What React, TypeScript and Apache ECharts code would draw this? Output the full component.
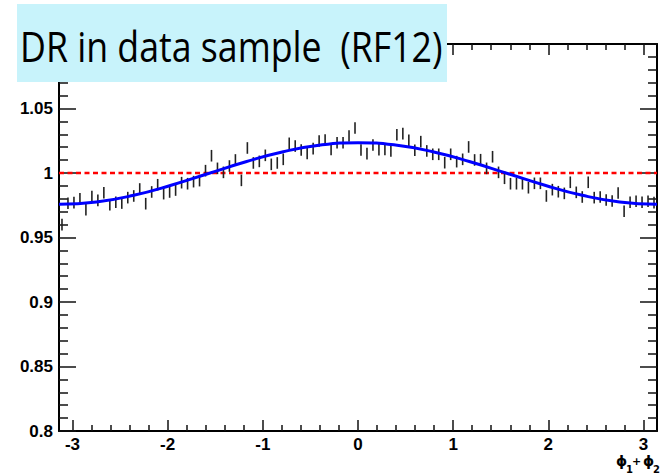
import React, { useEffect, useRef } from "react";
import * as echarts from "echarts";

// Measured ratio per bin (100 bins over [-pi, pi])
const binValues = [
  0.960, 0.9765, 0.977, 0.980, 0.9716, 0.9817, 0.9788, 0.9847, 0.9754, 0.9773,
  0.9767, 0.9809, 0.9822, 0.9876, 0.9762, 0.9853, 0.9909, 0.9840, 0.9853, 0.9868,
  0.9925, 0.9917, 0.9933, 0.9941, 1.0018, 1.0134, 1.0036, 1.0005, 1.0054, 1.0101,
  0.9943, 1.0194, 1.0078, 1.0090, 1.0137, 1.0067, 1.0078, 1.0106, 1.0230, 1.0209,
  1.0178, 1.0152, 1.0189, 1.0248, 1.0256, 1.0183, 1.0235, 1.0235, 1.0287, 1.0349,
  1.0178, 1.0150, 1.0217, 1.0181, 1.0183, 1.0171, 1.0297, 1.0305, 1.0253, 1.0176,
  1.0243, 1.0171, 1.0145, 1.0145, 1.0080, 1.0145, 1.0088, 1.0106, 1.0202, 1.0101,
  1.0103, 1.0036, 1.0126, 1.0005, 0.9959, 0.9917, 0.9917, 0.9917, 0.9886, 0.9920,
  0.9920, 0.9822, 0.9871, 0.9855, 0.9842, 0.9928, 0.9850, 0.9814, 0.9928, 0.9809,
  0.9814, 0.9791, 0.9783, 0.9845, 0.9703, 0.9773, 0.9781, 0.9773, 0.9781, 0.9770,
];
const binError = 0.0045;

// Fit curve
const fitX = [
  -3.1416, -2.7489, -2.3562, -1.9635, -1.5708, -1.1781, -0.7854, -0.3927, 0,
  0.3927, 0.7854, 1.1781, 1.5708, 1.9635, 2.3562, 2.7489, 3.1416,
];
const fitY = [
  0.9757, 0.9775, 0.9827, 0.9905, 0.9996, 1.0087, 1.0165, 1.0217, 1.0235,
  1.0217, 1.0165, 1.0087, 0.9996, 0.9905, 0.9827, 0.9775, 0.9757,
];

const xMajorTicks = [-3, -2, -1, 0, 1, 2, 3];
const xMinorTicks = [
  -2.8, -2.6, -2.4, -2.2, -1.8, -1.6, -1.4, -1.2, -0.8, -0.6, -0.4, -0.2,
  0.2, 0.4, 0.6, 0.8, 1.2, 1.4, 1.6, 1.8, 2.2, 2.4, 2.6, 2.8,
];
const refLevel = 1;
const titleText = "DR in data sample  (RF12)";

const X_MIN = -Math.PI;
const X_MAX = Math.PI;
const LABEL_FONT = "Liberation Sans";

export default function App() {
  const ref = useRef<HTMLDivElement>(null);

  useEffect(() => {
    document.body.style.margin = "0";
    if (!ref.current) return;
    const chart = echarts.init(ref.current, undefined, { renderer: "svg" });

    const nBins = binValues.length;
    const width = (X_MAX - X_MIN) / nBins;
    const points = binValues.map((v, i) => [X_MIN + (i + 0.5) * width, v]);
    const fitData = fitX.map((x, i) => [x, fitY[i]]);

    const axisLineStyle = { color: "#000", width: 2 };
    const tickLine = { color: "#111", width: 1.5 };

    const xBase = (pos: string) => ({
      type: "value",
      min: X_MIN,
      max: X_MAX,
      position: pos,
      splitLine: { show: false },
    });

    const labelStyle = {
      fontFamily: LABEL_FONT,
      fontWeight: "bold",
      fontSize: 17,
      color: "#000",
    };

    const subText = (text: string, x: number, y: number, size: number) => ({
      type: "text",
      z: 101,
      x,
      y,
      style: { text, fontFamily: "DejaVu Sans", fontWeight: "bold", fontSize: size, fill: "#000" },
    });

    const option: any = {
      animation: false,
      grid: { left: 59, right: 3, top: 44, bottom: 45 },
      xAxis: [
        {
          ...xBase("bottom"),
          axisLine: { show: true, onZero: false, lineStyle: axisLineStyle },
          axisTick: { show: true, inside: true, length: 11, customValues: xMajorTicks, lineStyle: tickLine },
          axisLabel: { show: true, customValues: xMajorTicks, ...labelStyle, margin: 5 },
        },
        {
          ...xBase("bottom"),
          axisLine: { show: false, onZero: false },
          axisTick: { show: true, inside: true, length: 6, customValues: xMinorTicks, lineStyle: tickLine },
          axisLabel: { show: false },
        },
        {
          ...xBase("top"),
          axisLine: { show: true, onZero: false, lineStyle: axisLineStyle },
          axisTick: { show: true, inside: true, length: 11, customValues: xMajorTicks, lineStyle: tickLine },
          axisLabel: { show: false },
        },
        {
          ...xBase("top"),
          axisLine: { show: false, onZero: false },
          axisTick: { show: true, inside: true, length: 6, customValues: xMinorTicks, lineStyle: tickLine },
          axisLabel: { show: false },
        },
      ],
      yAxis: [
        {
          type: "value",
          min: 0.8,
          max: 1.1,
          interval: 0.05,
          position: "left",
          axisLine: { show: true, onZero: false, lineStyle: axisLineStyle },
          axisTick: { show: true, inside: true, length: 17, lineStyle: tickLine },
          minorTick: { show: true, splitNumber: 5, length: 9, lineStyle: tickLine },
          splitLine: { show: false },
          minorSplitLine: { show: false },
          axisLabel: {
            ...labelStyle,
            margin: 6,
            showMaxLabel: false,
            formatter: (v: number) => String(Math.round(v * 100) / 100),
          },
        },
        {
          type: "value",
          min: 0.8,
          max: 1.1,
          interval: 0.05,
          position: "right",
          axisLine: { show: true, onZero: false, lineStyle: axisLineStyle },
          axisTick: { show: true, inside: true, length: 17, lineStyle: tickLine },
          minorTick: { show: true, splitNumber: 5, length: 9, lineStyle: tickLine },
          splitLine: { show: false },
          minorSplitLine: { show: false },
          axisLabel: { show: false },
        },
      ],
      series: [
        {
          type: "line",
          name: "reference",
          data: [
            [X_MIN, refLevel],
            [X_MAX, refLevel],
          ],
          symbol: "none",
          silent: true,
          lineStyle: { color: "#ff0000", width: 2.5, type: [5, 3.5] },
          z: 2,
        },
        {
          type: "custom",
          name: "data",
          data: points,
          silent: true,
          z: 3,
          renderItem: (params: any, api: any) => {
            const x = api.value(0);
            const y = api.value(1);
            const p1 = api.coord([x, y - binError]);
            const p2 = api.coord([x, y + binError]);
            return {
              type: "line",
              shape: { x1: p1[0], y1: p1[1], x2: p2[0], y2: p2[1] },
              style: { stroke: "#222", lineWidth: 1.6 },
            };
          },
        },
        {
          type: "line",
          name: "fit",
          data: fitData,
          smooth: true,
          symbol: "none",
          silent: true,
          lineStyle: { color: "#0000ff", width: 3 },
          z: 4,
        },
      ],
      graphic: [
        {
          type: "rect",
          z: 100,
          shape: { x: 17, y: 4, width: 430, height: 78 },
          style: { fill: "#c8f3fb" },
        },
        {
          type: "text",
          z: 101,
          x: 20,
          y: 45,
          scaleX: 0.85,
          style: {
            text: titleText,
            fontFamily: "Open Sans",
            fontSize: 42,
            fill: "#000",
            verticalAlign: "middle",
            align: "left",
          },
        },
        subText("ϕ", 616, 454, 14),
        subText("1", 626, 464, 10),
        subText("+", 632, 456, 11),
        subText("ϕ", 643, 454, 14),
        subText("2", 653, 464, 10),
      ],
    };

    chart.setOption(option);
    return () => chart.dispose();
  }, []);

  return <div ref={ref} style={{ width: 660, height: 476 }} />;
}
